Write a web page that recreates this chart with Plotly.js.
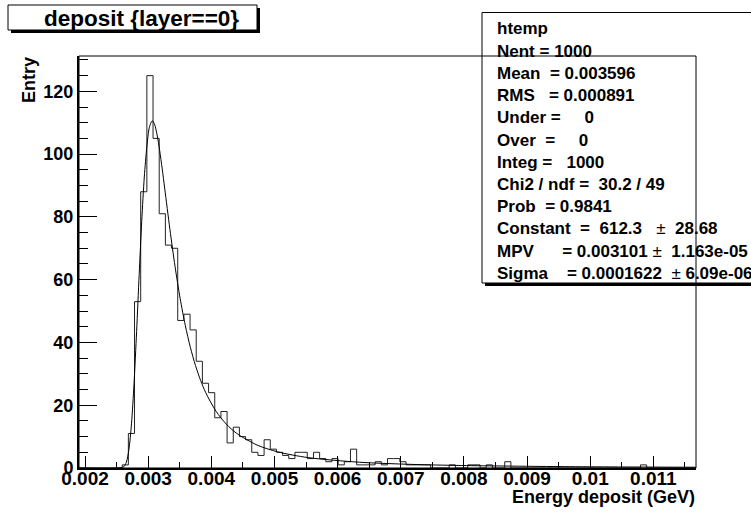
<!DOCTYPE html>
<html><head><meta charset="utf-8">
<script src="https://cdn.plot.ly/plotly-3.0.1.min.js"></script>
<style>html,body{margin:0;padding:0;background:#fff;}#chart{width:751px;height:517px;}</style>
</head><body><div id="chart"></div>
<script>
// ---- data ----
const histXmin = 0.001905;
const histBinWidth = 0.0000977;
const binCounts = [
  0,0,0,0,0,0,0,1,11,53,
  88,125,105,81,71,70,47,49,44,34,
  27,24,16,18,8,13,10,9,5,4,
  9,6,5,4,3,5,5,3,5,3,
  2,3,1,2,6,1,1,1,2,1,
  3,3,2,1,1,1,1,0,0,0,
  1,0,0,1,1,0,1,0,0,2,
  0,0,0,0,0,0,0,0,0,0,
  0,0,0,0,0,0,0,0,0,0,
  0,1,0,0,0,0,0,0,0,0
];
// fitted Landau curve (Constant 612.3, MPV 0.003101, Sigma 0.0001622), sampled points
const fitX = [0.001905,0.0025333,0.0026144,0.0026550,0.0026955,0.0027361,0.0027766,0.0028172,0.0028577,
  0.0028983,0.0029388,0.0029794,0.0030199,0.0030649,0.0031010,0.0031416,0.0031821,0.0032227,0.0032632,
  0.0033443,0.0034254,0.0035065,0.0035876,0.0036687,0.0037498,0.0038309,0.0039120,0.0040742,0.0042364,
  0.0043986,0.0047230,0.0050474,0.0055340,0.0063450,0.0071560,0.0079670,0.0095890,0.0112110,0.011675];
const fitY = [0,0.004,0.41,1.87,5.90,14.07,26.93,43.52,61.57,
  78.62,92.70,102.33,108.57,110.61,109.51,106.12,101.17,95.28,88.91,
  76.06,64.24,54.02,45.46,38.40,32.62,27.87,23.98,18.10,14.00,
  11.08,7.33,5.16,3.31,1.84,1.16,0.795,0.437,0.275,0.25];
const xTickVals = [0.002,0.003,0.004,0.005,0.006,0.007,0.008,0.009,0.01,0.011];
const xTickText = ['0.002','0.003','0.004','0.005','0.006','0.007','0.008','0.009','0.01','0.011'];
const yTickVals = [0,20,40,60,80,100,120];
const yTickText = ['0','20','40','60','80','100','120'];
const titleText = 'deposit {layer==0}';
const xTitle = 'Energy deposit (GeV)';
const yTitle = 'Entry';
const PM = '<span style="font-weight:normal">\u00b1</span>';
const statsLines = [
  'htemp',
  'Nent = 1000',
  'Mean  = 0.003596',
  'RMS   = 0.000891',
  'Under =     0',
  'Over  =     0',
  'Integ =   1000',
  'Chi2 / ndf =  30.2 / 49',
  'Prob  = 0.9841',
  'Constant  =  612.3   ' + PM + '  28.68',
  'MPV      = 0.003101 ' + PM + '  1.163e-05',
  'Sigma    = 0.0001622  ' + PM + ' 6.09e-06'
];

// ---- geometry helpers (pixel -> paper) ----
const PL = 79, PR = 696, PT = 56, PB = 468;
const fx = p => (p - PL) / (PR - PL);
const fy = p => (PB - p) / (PB - PT);
const FONT = 'Liberation Sans, Arial, Helvetica, sans-serif';

const nb = binCounts.length;
const histX = [], histY = [];
for (let i = 0; i <= nb; i++) {
  histX.push(histXmin + i * histBinWidth);
  histY.push(i < nb ? binCounts[i] : binCounts[nb - 1]);
}
const xMax = histXmin + nb * histBinWidth;

const traces = [
  {x: histX, y: histY, type: 'scatter', mode: 'lines',
   line: {shape: 'hv', color: '#222', width: 1}, hoverinfo: 'skip'},
  {x: fitX, y: fitY, type: 'scatter', mode: 'lines',
   line: {shape: 'spline', smoothing: 0.8, color: '#000', width: 1}, hoverinfo: 'skip'}
];

const sf = {family: FONT, size: 17, weight: 'bold', color: '#000'};
const ann = (text, px, py, xa, font) => ({text: text, x: fx(px), y: fy(py), xref: 'paper', yref: 'paper',
  showarrow: false, xanchor: xa, yanchor: 'middle', font: font});

const annotations = [
  ann(titleText, 141, 18, 'center', {family: FONT, size: 22.5, weight: 'bold', color: '#000'}),
  ann(xTitle, 697, 497, 'right', {family: FONT, size: 18, weight: 'bold', color: '#000'}),
  Object.assign(ann(yTitle, 29, 55, 'center', {family: FONT, size: 18, weight: 'bold', color: '#000'}),
    {textangle: -90, yanchor: 'top'})
];
statsLines.forEach((t, k) => annotations.push(ann(t, 495, 29 + 22.2 * k, 'left', sf)));

const shapes = [
  {type: 'rect', xref: 'paper', yref: 'paper', x0: fx(11), x1: fx(260), y0: fy(33), y1: fy(8),
   fillcolor: '#000', line: {width: 0}, layer: 'above'},
  {type: 'rect', xref: 'paper', yref: 'paper', x0: fx(8), x1: fx(257), y0: fy(30), y1: fy(5),
   fillcolor: '#fff', line: {color: '#000', width: 1}, layer: 'above'},
  {type: 'rect', xref: 'paper', yref: 'paper', x0: fx(485), x1: fx(775), y0: fy(286), y1: fy(16),
   fillcolor: '#000', line: {width: 0}, layer: 'above'},
  {type: 'rect', xref: 'paper', yref: 'paper', x0: fx(482), x1: fx(772), y0: fy(283), y1: fy(12.5),
   fillcolor: '#fff', line: {color: '#000', width: 1}, layer: 'above'},
  {type: 'rect', xref: 'paper', yref: 'paper', x0: 0, x1: 1, y0: 0, y1: 1,
   line: {color: '#000', width: 1}, layer: 'above'}
];

const layout = {
  width: 751, height: 517,
  margin: {l: PL, r: 751 - PR, t: PT, b: 517 - PB, pad: 0},
  paper_bgcolor: '#fff', plot_bgcolor: '#fff', showlegend: false,
  xaxis: {range: [histXmin, xMax], tickmode: 'array', tickvals: xTickVals, ticktext: xTickText,
    ticks: 'inside', ticklen: 12, tickwidth: 1, tickcolor: '#000', ticklabelstandoff: -8,
    showline: true, linewidth: 2, linecolor: '#000', zeroline: false, showgrid: false,
    tickfont: {family: FONT, size: 19, weight: 'bold', color: '#000'},
    minor: {tickmode: 'linear', tick0: 0.002, dtick: 0.0005, ticks: 'inside', ticklen: 6,
      tickwidth: 1, tickcolor: '#000', showgrid: false}},
  yaxis: {range: [0, 131.25], tickmode: 'array', tickvals: yTickVals, ticktext: yTickText,
    ticks: 'inside', ticklen: 18, tickwidth: 1, tickcolor: '#000',
    showline: true, linewidth: 2, linecolor: '#000', zeroline: false, showgrid: false,
    tickfont: {family: FONT, size: 18, weight: 'bold', color: '#000'},
    minor: {tickmode: 'linear', tick0: 0, dtick: 5, ticks: 'inside', ticklen: 9,
      tickwidth: 1, tickcolor: '#000', showgrid: false}},
  shapes: shapes,
  annotations: annotations
};

Plotly.newPlot('chart', traces, layout, {staticPlot: true, displayModeBar: false});
</script>
</body></html>
